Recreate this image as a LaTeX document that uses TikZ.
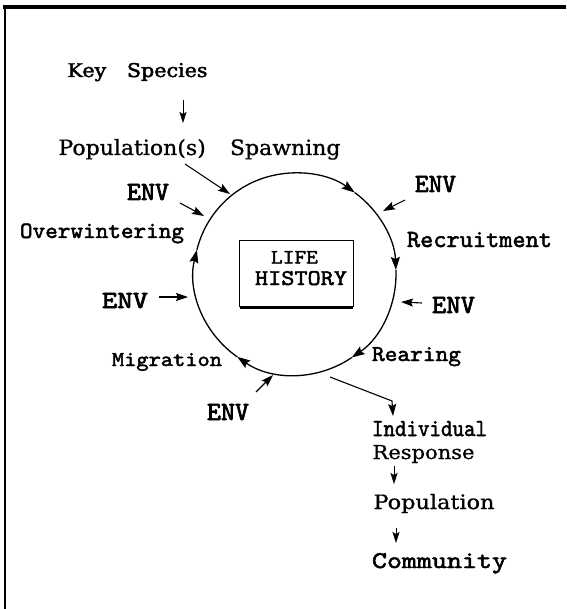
\documentclass[tikz,border=0pt]{standalone}
\usepackage{fontspec}
\usepackage{graphicx}
\setmainfont{DejaVu Serif}[FakeBold=0.8]
\newfontfamily\serifb{DejaVu Serif}[FakeBold=2.2]
\newfontfamily\twf{lmmono10-regular.otf}[FakeBold=2.0]
\newfontfamily\twb{lmmono10-regular.otf}[FakeBold=2.6]
\usetikzlibrary{arrows.meta}
\newcommand\fitbox[3]{\resizebox{#1pt}{#2pt}{#3}}
\begin{document}
\begin{tikzpicture}[x=1pt,y=-1pt,
  txt/.style={inner sep=0pt,outer sep=0pt,anchor=base west},
  arr/.style={line width=1.1pt,-{Stealth[length=12pt,width=8pt,inset=2pt]}},
  thinarr/.style={line width=0.5pt,-{Stealth[length=11pt,width=7pt,inset=2pt]}},
  circ/.style={line width=1.3pt,-{Stealth[length=13pt,width=9pt,inset=2pt]}}]
\useasboundingbox (0,0) rectangle (566,609);
\fill[white] (0,0) rectangle (566,609);
% frame
\draw[line width=4pt] (3,7) -- (566,7);
\draw[line width=2.5pt] (5,5) -- (5,609);
% texts
\node[txt] (ks)   at (67.5,77)  {\fitbox{140}{14}{\serifb Key\quad Species}};
\node[txt] (pops) at (58.5,155) {\fitbox{282}{16}{Population(s)\hspace{1.1em}Spawning}};
\node[txt] (env1) at (127,200)  {\fitbox{42}{16}{\twb ENV}};
\node[txt] (env2) at (415,192)  {\fitbox{41}{16}{\twb ENV}};
\node[txt] (env3) at (102,308)  {\fitbox{46}{15}{\twb ENV}};
\node[txt] (env4) at (432,313)  {\fitbox{43}{16}{\twb ENV}};
\node[txt] (env5) at (207,420)  {\fitbox{42}{16}{\twb ENV}};
\node[txt] (ow)   at (20,238)   {\fitbox{164}{14.5}{\twf Overwintering}};
\node[txt] (rec)  at (407,247)  {\fitbox{145}{15}{\twf Recruitment}};
\node[txt] (mig)  at (112,366)  {\fitbox{110}{13}{\twf Migration}};
\node[txt] (rear) at (372,361)  {\fitbox{89}{14}{\twf Rearing}};
\node[txt] (ind)  at (372,436)  {\fitbox{115}{15}{\twf Individual}};
\node[txt] (resp) at (372.5,459) {\fitbox{102}{14}{Response}};
\node[txt] (pop)  at (373.5,509) {\fitbox{121}{15}{Population}};
\node[txt] (com)  at (372,568)  {\fitbox{135}{15}{\twf Community}};
% life history box
\node[minimum width=113pt,minimum height=66pt,inner sep=0pt] (lh) at (296.5,274) {};
\draw[line width=0.8pt] (lh.south west) -- (lh.north west) -- (lh.north east) -- (lh.south east);
\draw[line width=3pt] (lh.south west) -- (lh.south east);
\node[txt] (life) at (271,263.5) {\fitbox{47}{12.5}{\twf LIFE}};
\node[txt] (hist) at (255,285) {\fitbox{92}{14}{\twf HISTORY}};
% life cycle circle
\coordinate (c) at (295,274);
\draw[circ] ([shift={(-166.2:101)}]c) arc[start angle=-166.2,end angle=-53.8,radius=101];
\draw[circ] ([shift={(-53.8:101)}]c) arc[start angle=-53.8,end angle=-2.3,radius=101];
\draw[circ] ([shift={(-2.3:101)}]c) arc[start angle=-2.3,end angle=55.8,radius=101];
\draw[circ] ([shift={(55.8:101)}]c) arc[start angle=55.8,end angle=124.9,radius=101];
\draw[circ] ([shift={(124.9:101)}]c) arc[start angle=124.9,end angle=193.8,radius=101];
% connector coordinates
\coordinate (ksA) at (183,100); \coordinate (ksB) at (183,123);
\coordinate (popA) at (185,164); \coordinate (popB) at (230,194);
\coordinate (e1A) at (180,203); \coordinate (e1B) at (204,216);
\coordinate (e2A) at (405,200); \coordinate (e2B) at (383,211);
\coordinate (e3A) at (159,297); \coordinate (e3B) at (188,297);
\coordinate (e4A) at (422,303); \coordinate (e4B) at (401,302);
\coordinate (e5A) at (256,392); \coordinate (e5B) at (273,375);
\coordinate (outA) at (330,377); \coordinate (outB) at (392,401); \coordinate (outC) at (393,416);
\coordinate (rpA) at (394,466); \coordinate (rpB) at (394,484);
\coordinate (pcA) at (396,528); \coordinate (pcB) at (396,543);
% connectors
\draw[thinarr] (ksA) -- (ksB);
\draw[arr] (popA) -- (popB);
\draw[arr] (e1A) -- (e1B);
\draw[arr] (e2A) -- (e2B);
\draw[arr] (e3A) -- (e3B);
\draw[arr] (e4A) -- (e4B);
\draw[arr] (e5A) -- (e5B);
\draw[arr] (outA) -- (outB) -- (outC);
\draw[thinarr] (rpA) -- (rpB);
\draw[thinarr] (pcA) -- (pcB);
\end{tikzpicture}
\end{document}
